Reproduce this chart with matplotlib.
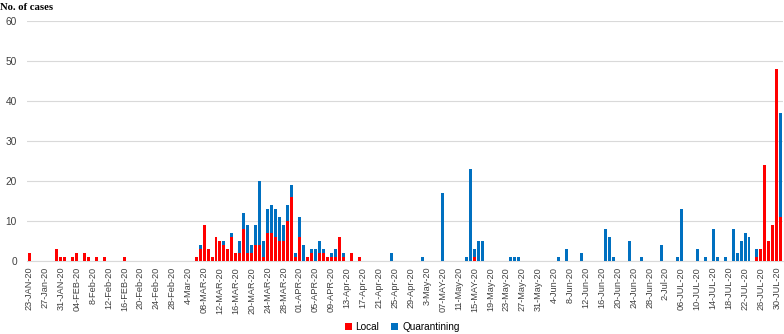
import matplotlib
matplotlib.use("Agg")
import matplotlib.pyplot as plt
import numpy as np
import pandas as pd

# daily cases, only days with cases are listed
local_dates = ['2020-01-23', '2020-01-30', '2020-01-31', '2020-02-01', '2020-02-03',
               '2020-02-04', '2020-02-06', '2020-02-07', '2020-02-09', '2020-02-11',
               '2020-02-16', '2020-03-06', '2020-03-07', '2020-03-08', '2020-03-09',
               '2020-03-10', '2020-03-11', '2020-03-12', '2020-03-13', '2020-03-14',
               '2020-03-15', '2020-03-16', '2020-03-17', '2020-03-18', '2020-03-19',
               '2020-03-20', '2020-03-21', '2020-03-22', '2020-03-23', '2020-03-24',
               '2020-03-25', '2020-03-26', '2020-03-27', '2020-03-28', '2020-03-29',
               '2020-03-30', '2020-03-31', '2020-04-01', '2020-04-03', '2020-04-04',
               '2020-04-06', '2020-04-07', '2020-04-08', '2020-04-09', '2020-04-10',
               '2020-04-11', '2020-04-12', '2020-04-14', '2020-04-16', '2020-05-15',
               '2020-07-25', '2020-07-26', '2020-07-27', '2020-07-28', '2020-07-29',
               '2020-07-30', '2020-07-31']
local_cases = [2, 3, 1, 1, 1,
               2, 2, 1, 1, 1,
               1, 1, 3, 9, 3,
               1, 6, 5, 4, 3,
               6, 2, 2, 8, 2,
               2, 4, 4, 1, 7,
               7, 6, 5, 5, 10,
               16, 1, 6, 1, 2,
               2, 2, 1, 1, 1,
               6, 1, 2, 1, 1,
               1, 3, 24, 5, 9,
               48, 11]

quar_dates = ['2020-03-07', '2020-03-13', '2020-03-15', '2020-03-17', '2020-03-18',
              '2020-03-19', '2020-03-20', '2020-03-21', '2020-03-22', '2020-03-23',
              '2020-03-24', '2020-03-25', '2020-03-26', '2020-03-27', '2020-03-28',
              '2020-03-29', '2020-03-30', '2020-03-31', '2020-04-01', '2020-04-02',
              '2020-04-04', '2020-04-05', '2020-04-06', '2020-04-07', '2020-04-09',
              '2020-04-10', '2020-04-12', '2020-04-24', '2020-05-02', '2020-05-07',
              '2020-05-13', '2020-05-14', '2020-05-15', '2020-05-16', '2020-05-17',
              '2020-05-24', '2020-05-25', '2020-05-26', '2020-06-05', '2020-06-07',
              '2020-06-11', '2020-06-17', '2020-06-18', '2020-06-19', '2020-06-23',
              '2020-06-26', '2020-07-01', '2020-07-05', '2020-07-06', '2020-07-10',
              '2020-07-12', '2020-07-14', '2020-07-15', '2020-07-17', '2020-07-19',
              '2020-07-20', '2020-07-21', '2020-07-22', '2020-07-23', '2020-07-25',
              '2020-07-31']
quar_cases = [1, 1, 1, 3, 4,
              7, 2, 5, 16, 4,
              6, 7, 7, 6, 4,
              4, 3, 1, 5, 4,
              1, 3, 3, 1, 1,
              2, 1, 2, 1, 17,
              1, 23, 2, 5, 5,
              1, 1, 1, 1, 3,
              2, 8, 6, 1, 5,
              1, 4, 1, 13, 3,
              1, 8, 1, 1, 8,
              2, 5, 7, 6, 2,
              26]

tick_labels = ['23-JAN-20', '27-Jan-20', '31-JAN-20', '04-FEB-20', '8-Feb-20', '12-Feb-20',
               '16-FEB-20', '20-Feb-20', '24-Feb-20', '28-Feb-20', '4-Mar-20', '08-MAR-20',
               '12-MAR-20', '16-MAR-20', '20-MAR-20', '24-MAR-20', '28-MAR-20', '01-APR-20',
               '05-APR-20', '09-APR-20', '13-Apr-20', '17-Apr-20', '21-Apr-20', '25-Apr-20',
               '29-Apr-20', '3-May-20', '07-MAY-20', '11-May-20', '15-MAY-20', '19-May-20',
               '23-May-20', '27-May-20', '31-May-20', '4-Jun-20', '8-Jun-20', '12-Jun-20',
               '16-Jun-20', '20-Jun-20', '24-Jun-20', '28-Jun-20', '2-Jul-20', '06-JUL-20',
               '10-JUL-20', '14-JUL-20', '18-JUL-20', '22-JUL-20', '26-JUL-20', '30-JUL-20']

# the source sheet has no row for 29 Feb
days = pd.date_range('2020-01-23', '2020-07-31')
days = days[days != pd.Timestamp('2020-02-29')]

local = pd.Series(local_cases, index=pd.to_datetime(local_dates)).reindex(days, fill_value=0)
quar = pd.Series(quar_cases, index=pd.to_datetime(quar_dates)).reindex(days, fill_value=0)
x = np.arange(len(days))

plt.rcParams['font.family'] = ['Liberation Sans', 'DejaVu Sans']

fig = plt.figure(figsize=(7.84, 3.34), dpi=100)
ax = fig.add_axes([0.034, 0.2177, 0.965, 0.7203])

ax.bar(x, local.values, width=0.75, color='#FF0000', label='Local', zorder=3)
ax.bar(x, quar.values, width=0.75, bottom=local.values, color='#0070C0',
       label='Quarantining', zorder=3)

ax.set_xlim(-0.6, len(days) - 0.4)
ax.set_ylim(0, 60)
ax.set_yticks(np.arange(0, 61, 10))
ax.set_xticks(x[::4])
ax.set_xticklabels(tick_labels, rotation=90, fontsize=6.6, color='#404040')
ax.tick_params(axis='y', labelsize=7.3, colors='#404040', length=0, pad=7)
ax.tick_params(axis='x', length=0, pad=4)
ax.grid(axis='y', color='#D9D9D9', linewidth=0.8, zorder=0)
for side in ['top', 'right', 'left']:
    ax.spines[side].set_visible(False)
ax.spines['bottom'].set_color('#D9D9D9')

fig.text(0.0, 0.99, 'No. of cases', family='Liberation Serif', weight='bold',
         fontsize=7.7, va='top', ha='left')

fig.legend(loc='lower center', bbox_to_anchor=(0.513, -0.022), ncol=2, frameon=False,
           fontsize=7.2, handlelength=0.7, handleheight=0.7, handletextpad=0.4,
           columnspacing=1.2)

fig.savefig('out.png', dpi=100)
